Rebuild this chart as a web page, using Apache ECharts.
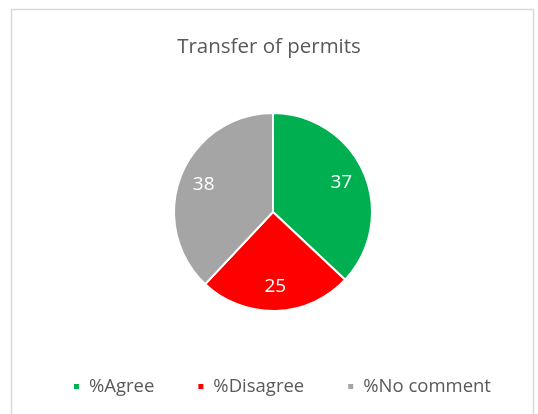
<!DOCTYPE html>
<html>
<head>
<meta charset="utf-8">
<script src="https://cdn.jsdelivr.net/npm/echarts@6/dist/echarts.min.js"></script>
<style>
  html, body { margin: 0; padding: 0; background: #fff; }
  #chart { width: 538px; height: 414px; }
</style>
</head>
<body>
<div id="chart"></div>
<script>
const categories = ['%Agree', '%Disagree', '%No comment']
const values = [37, 25, 38]
const colors = ['#00B050', '#FF0000', '#A5A5A5']

const chart = echarts.init(document.getElementById('chart'))
const font = 'Open Sans'

const pieData = categories.map((name, i) => ({
  name: name,
  value: values[i],
  itemStyle: {color: colors[i]}
}))

const option = {
  animation: false,
  title: {
    text: 'Transfer of permits',
    left: 'center',
    top: 32,
    textStyle: {
      fontFamily: font,
      fontSize: 20.5,
      fontWeight: 'normal',
      color: '#595959'
    }
  },
  legend: {
    bottom: 13,
    left: 67,
    icon: 'rect',
    itemWidth: 7,
    itemHeight: 7,
    itemGap: 42,
    textStyle: {
      fontFamily: font,
      fontSize: 18.5,
      color: '#595959',
      padding: [0, 0, 0, 4]
    },
    data: categories
  },
  graphic: [
    {
      type: 'rect',
      shape: {x: 11.5, y: 9.5, width: 522, height: 420},
      style: {fill: 'none', stroke: '#d9d9d9', lineWidth: 1.5},
      silent: true
    }
  ],
  series: [
    {
      type: 'pie',
      center: [273, 212],
      radius: [0, 99],
      startAngle: 90,
      clockwise: true,
      data: pieData,
      itemStyle: {borderColor: '#fff', borderWidth: 2},
      label: {show: false},
      labelLine: {show: false}
    },
    {
      // transparent ring just to place the value labels further out
      type: 'pie',
      center: [273, 212],
      radius: [44, 99],
      startAngle: 90,
      clockwise: true,
      silent: true,
      data: pieData.map(d => ({name: d.name, value: d.value, itemStyle: {color: 'transparent'}})),
      label: {
        show: true,
        position: 'inside',
        formatter: '{c}',
        fontFamily: font,
        fontSize: 19,
        color: '#fff'
      },
      labelLine: {show: false}
    }
  ]
}
chart.setOption(option)
</script>
</body>
</html>
